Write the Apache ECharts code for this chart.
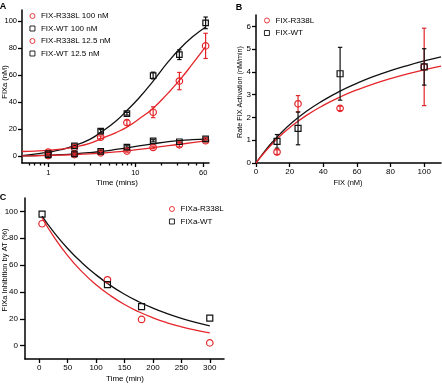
<!DOCTYPE html>
<html>
<head>
<meta charset="utf-8">
<script src="https://cdn.jsdelivr.net/npm/echarts@6/dist/echarts.min.js"></script>
<style>
html, body { margin: 0; padding: 0; background: #fff; }
#chart { width: 442px; height: 387px; }
</style>
</head>
<body>
<div id="chart"></div>
<script>
/* -------------------------------------------------------------------------- */
/* Panel A - FIXa generation over time (log x) */
var timesA = [1, 2, 4, 8, 16, 32, 64];
var r338l100 = [3, 6.5, 14, 24.8, 32.5, 55.5, 81.5];
var r338l100Err = [0.6, 0.6, 1, 2, 4, 6.4, 9.3];
var wt100 = [2, 7.6, 18.5, 31.4, 59.6, 75, 98.5];
var wt100Err = [0.6, 0.8, 1.2, 1, 2.5, 3.6, 4.3];
var r338l12 = [0.5, 1.2, 2.5, 3.8, 6.5, 8.4, 11.5];
var r338l12Err = [1.5, 1, 1, 0.8, 1, 1.5, 1];
var wt12 = [1, 1.7, 3.6, 6.7, 11.4, 10.7, 12.8];
var wt12Err = [1.8, 1, 0.8, 1, 0.8, 0.8, 0.8];

// fitted curves
var fitTimesA = [0.5, 0.7, 1, 1.4, 2, 3, 4, 6, 8, 11, 16, 24, 32, 45, 64];
var wt100Fit = [0.5, 1.6, 3, 4.8, 7.8, 12.5, 17.5, 26, 33.8, 43, 55.5, 70, 79, 88, 95.5];
var r338l100Fit = [3.5, 3.8, 4.3, 5.2, 6.8, 9.5, 12.8, 17.5, 21.5, 27.5, 35.5, 47, 56, 68, 81];
var wt12Fit = [0.3, 0.5, 0.8, 1.2, 1.8, 2.7, 3.5, 5, 6.2, 7.6, 9.2, 10.8, 11.6, 12.2, 12.6];
var r338l12Fit = [0.2, 0.35, 0.6, 0.85, 1.2, 1.75, 2.3, 3.2, 4, 5, 6.3, 7.8, 8.8, 10, 11.3];

var ticksAx = [1, 10, 60];
var minorTicksAx = [0.6, 0.7, 0.8, 0.9, 2, 3, 4, 5, 6, 7, 8, 9, 20, 30, 40, 50];
var ticksAy = [0, 20, 40, 60, 80, 100];

/* Panel B - rate of FIX activation */
var concB = [12.5, 25, 50, 100];
var r338lB = [0.48, 2.6, 2.4, 4.22];
var r338lBErr = [0.1, 0.36, 0.1, 1.7];
var wtB = [0.95, 1.52, 3.92, 4.22];
var wtBErr = [0.3, 0.72, 1.16, 0.8];
var fitConcB = [0, 5, 10, 15, 20, 30, 40, 50, 60, 70, 80, 90, 100, 110];
var wtBFit = [0, 0.5, 0.94, 1.33, 1.68, 2.27, 2.75, 3.16, 3.5, 3.8, 4.06, 4.28, 4.48, 4.66];
var r338lBFit = [0, 0.46, 0.87, 1.23, 1.55, 2.09, 2.53, 2.9, 3.21, 3.48, 3.71, 3.91, 4.09, 4.25];
var ticksBx = [0, 20, 40, 60, 80, 100];
var ticksBy = [0, 1, 2, 3, 4, 5, 6];

/* Panel C - inhibition by AT */
var timesC = [5, 120, 180, 300];
var r338lC = [90.8, 49, 19.5, 2];
var wtC = [98, 45.5, 29, 20.5];
var fitTimesC = [5, 25, 50, 75, 100, 125, 150, 175, 200, 225, 250, 275, 300];
var wtCFit = [96.5, 84.9, 72.4, 61.8, 52.7, 44.9, 38.3, 32.7, 27.9, 23.8, 20.3, 17.3, 14.75];
var r338lCFit = [95.3, 81.5, 67, 55.1, 45.3, 37.3, 30.6, 25.2, 20.7, 17, 14, 11.5, 9.5];
var ticksCx = [0, 50, 100, 150, 200, 250, 300];
var ticksCy = [0, 20, 40, 60, 80, 100];
/* -------------------------------------------------------------------------- */

var RED = '#e4262b';
var BLACK = '#111';
var FONT = '"Liberation Sans", Arial, sans-serif';

var pairs = function (xs, ys) {
  return xs.map(function (x, i) { return [x, ys[i]]; });
};
var errData = function (xs, ys, es) {
  return xs.map(function (x, i) { return [x, ys[i] - es[i], ys[i] + es[i]]; });
};

var renderErr = function (params, api) {
  var lo = api.coord([api.value(0), api.value(1)]);
  var hi = api.coord([api.value(0), api.value(2)]);
  var w = 2.2;
  var style = { stroke: api.visual('color'), lineWidth: 1.2 };
  return {
    type: 'group',
    children: [
      { type: 'line', shape: { x1: lo[0], y1: lo[1], x2: hi[0], y2: hi[1] }, style: style },
      { type: 'line', shape: { x1: lo[0] - w, y1: lo[1], x2: lo[0] + w, y2: lo[1] }, style: style },
      { type: 'line', shape: { x1: hi[0] - w, y1: hi[1], x2: hi[0] + w, y2: hi[1] }, style: style }
    ]
  };
};

var fitLine = function (idx, xs, ys, color) {
  return {
    type: 'line', xAxisIndex: idx, yAxisIndex: idx,
    data: pairs(xs, ys), smooth: true, showSymbol: false, silent: true,
    lineStyle: { color: color, width: 1.3 }, z: 2
  };
};
var points = function (idx, name, xs, ys, color, symbol, size) {
  return {
    type: 'scatter', name: name, xAxisIndex: idx, yAxisIndex: idx,
    data: pairs(xs, ys), symbol: symbol, symbolSize: size,
    itemStyle: { color: 'rgba(255,255,255,0)', borderColor: color, borderWidth: 1.2, opacity: 1 },
    z: 4
  };
};
var errBars = function (idx, xs, ys, es, color) {
  return {
    type: 'custom', xAxisIndex: idx, yAxisIndex: idx,
    data: errData(xs, ys, es), renderItem: renderErr,
    encode: { x: 0, y: [1, 2] },
    itemStyle: { color: color }, silent: true, z: 3
  };
};

var axis = function (grid, extra) {
  var base = {
    gridIndex: grid,
    axisLine: { show: true, onZero: false, lineStyle: { color: '#000', width: 1.5 } },
    axisTick: { show: true, length: 4, lineStyle: { color: '#000', width: 1.3 } },
    axisLabel: { color: '#000', fontSize: 8, fontFamily: FONT, margin: 5 },
    splitLine: { show: false }
  };
  Object.keys(extra).forEach(function (k) {
    if (typeof extra[k] === 'object' && !Array.isArray(extra[k]) && base[k]) {
      base[k] = Object.assign({}, base[k], extra[k]);
    } else {
      base[k] = extra[k];
    }
  });
  return base;
};

var legendStyle = function (left, top, names, icons) {
  return {
    left: left, top: top, orient: 'vertical', padding: 0,
    itemWidth: 5, itemHeight: 5, itemGap: 4.5,
    itemStyle: { borderWidth: 0.9 },
    textStyle: { fontSize: 8, fontFamily: FONT, color: '#000', padding: [0, 0, 0, 1] },
    data: names.map(function (n, i) { return { name: n, icon: icons[i] }; })
  };
};

var titleText = function (x, y, text, rotate, size, bold) {
  return {
    type: 'text', x: x, y: y, rotation: rotate ? Math.PI / 2 : 0,
    style: {
      text: text, fontSize: size, fontFamily: FONT, fill: '#000',
      fontWeight: bold ? 'bold' : 'normal', align: 'center', verticalAlign: 'middle'
    }
  };
};

var chart = echarts.init(document.getElementById('chart'));

chart.setOption({
  animation: false,
  grid: [
    { left: 22, top: 10, width: 187, height: 153 },
    { left: 256, top: 15, width: 185, height: 148 },
    { left: 25, top: 198, width: 199, height: 161 },
    { left: 22, top: 10, width: 187, height: 153 }
  ],
  xAxis: [
    axis(0, { type: 'log', min: 0.5, max: 70,
      axisTick: { customValues: ticksAx },
      axisLabel: { customValues: ticksAx, margin: 6, fontSize: 7.5 } }),
    axis(1, { type: 'value', min: 0, max: 110,
      axisTick: { customValues: ticksBx },
      axisLabel: { customValues: ticksBx } }),
    axis(2, { type: 'value', min: -25, max: 325,
      axisTick: { customValues: ticksCx, length: 4 },
      axisLabel: { customValues: ticksCx, margin: 5 } }),
    axis(3, { type: 'log', min: 0.5, max: 70,
      axisLine: { show: false },
      axisTick: { customValues: minorTicksAx, length: 2.5 },
      axisLabel: { show: false } })
  ],
  yAxis: [
    axis(0, { type: 'value', min: -5, max: 108,
      axisTick: { customValues: ticksAy },
      axisLabel: { customValues: ticksAy, fontSize: 7.5 } }),
    axis(1, { type: 'value', min: 0, max: 6.5,
      axisTick: { customValues: ticksBy },
      axisLabel: { customValues: ticksBy } }),
    axis(2, { type: 'value', min: -10, max: 110,
      axisTick: { customValues: ticksCy, length: 5 },
      axisLabel: { customValues: ticksCy, margin: 7 } }),
    axis(3, { type: 'value', min: -5, max: 108, show: false })
  ],
  legend: [
    legendStyle(29.5, 12, ['FIX-R338L 100 nM', 'FIX-WT 100 nM', 'FIX-R338L 12.5 nM', 'FIX-WT 12.5 nM'],
      ['circle', 'rect', 'circle', 'rect']),
    legendStyle(264, 16.5, ['FIX-R338L', 'FIX-WT'], ['circle', 'rect']),
    legendStyle(169, 205, ['FIXa-R338L', 'FIXa-WT'], ['circle', 'rect'])
  ],
  graphic: [
    titleText(3, 7, 'A', false, 9, true),
    titleText(239, 8, 'B', false, 9, true),
    titleText(3, 198, 'C', false, 9, true),
    titleText(4.5, 82, 'FIXa (nM)', true, 7.5),
    titleText(117, 183, 'Time (mins)', false, 8),
    titleText(240, 92, 'Rate FIX Activation (nM/min)', true, 7.2),
    titleText(348, 183, 'FIX (nM)', false, 7.5),
    titleText(4.5, 270, 'FIXa Inhibition by AT (%)', true, 7.5),
    titleText(125, 379, 'Time (min)', false, 8)
  ],
  series: [
    // A
    fitLine(0, fitTimesA, wt100Fit, BLACK),
    fitLine(0, fitTimesA, r338l100Fit, RED),
    fitLine(0, fitTimesA, wt12Fit, BLACK),
    fitLine(0, fitTimesA, r338l12Fit, RED),
    errBars(0, timesA, wt100, wt100Err, BLACK),
    errBars(0, timesA, r338l100, r338l100Err, RED),
    errBars(0, timesA, wt12, wt12Err, BLACK),
    errBars(0, timesA, r338l12, r338l12Err, RED),
    points(0, 'FIX-R338L 100 nM', timesA, r338l100, RED, 'circle', 6.5),
    points(0, 'FIX-WT 100 nM', timesA, wt100, BLACK, 'rect', 5.5),
    points(0, 'FIX-R338L 12.5 nM', timesA, r338l12, RED, 'circle', 6.5),
    points(0, 'FIX-WT 12.5 nM', timesA, wt12, BLACK, 'rect', 5.5),
    // B
    fitLine(1, fitConcB, wtBFit, BLACK),
    fitLine(1, fitConcB, r338lBFit, RED),
    errBars(1, concB, r338lB, r338lBErr, RED),
    errBars(1, concB, wtB, wtBErr, BLACK),
    points(1, 'FIX-R338L', concB, r338lB, RED, 'circle', 6.5),
    points(1, 'FIX-WT', concB, wtB, BLACK, 'rect', 6),
    // C
    fitLine(2, fitTimesC, wtCFit, BLACK),
    fitLine(2, fitTimesC, r338lCFit, RED),
    points(2, 'FIXa-R338L', timesC, r338lC, RED, 'circle', 6.5),
    points(2, 'FIXa-WT', timesC, wtC, BLACK, 'rect', 6)
  ]
});
</script>
</body>
</html>
